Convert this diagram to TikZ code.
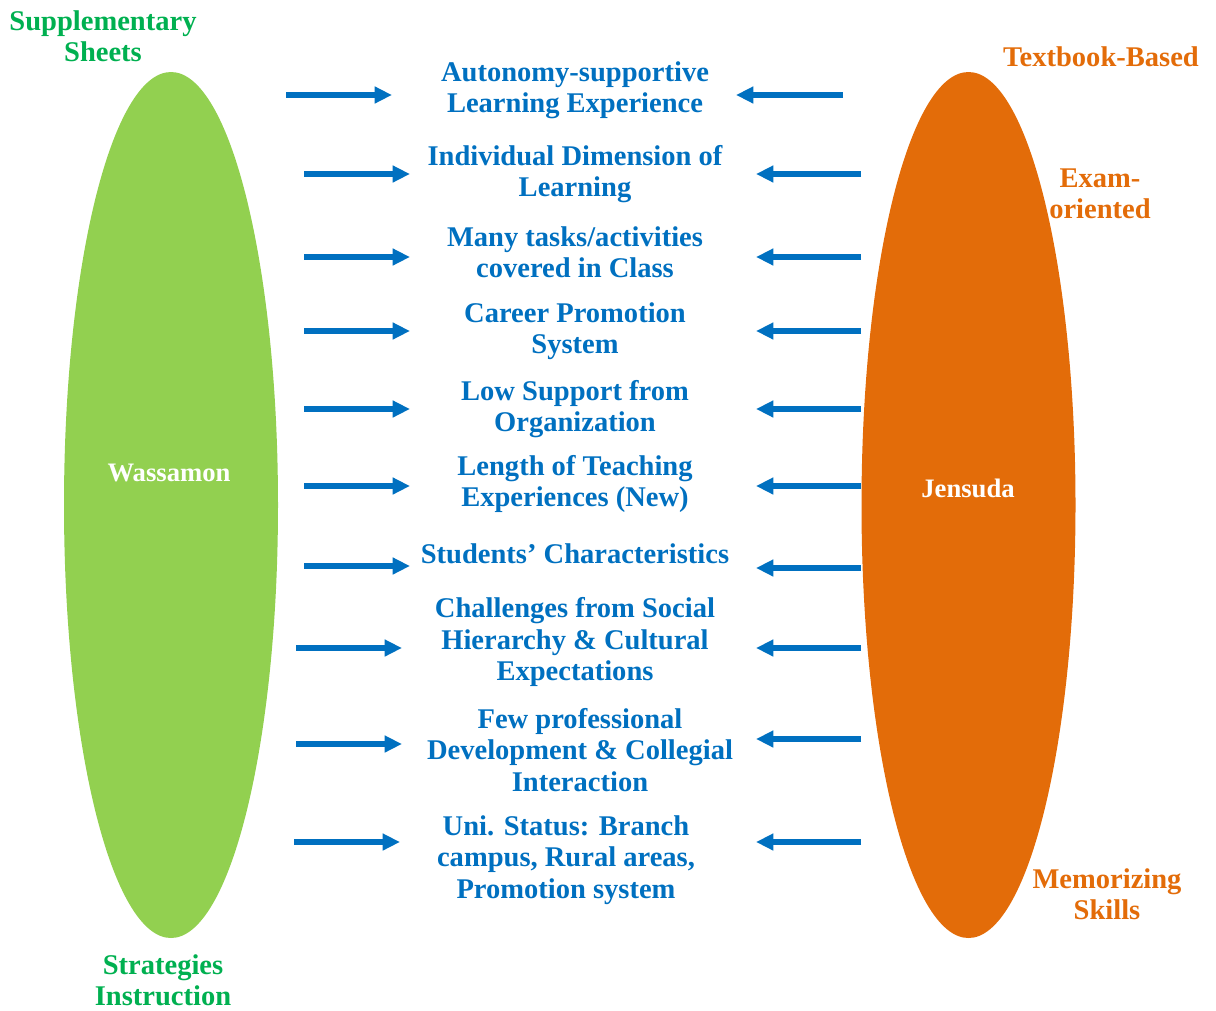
\documentclass[tikz,border=0pt]{standalone}
\usepackage{fontspec}
\setmainfont{Liberation Serif}
\usetikzlibrary{arrows.meta}
\definecolor{leafgreen}{HTML}{92D050}
\definecolor{rustorange}{HTML}{E36C09}
\definecolor{factorblue}{HTML}{0070C0}
\definecolor{notegreen}{HTML}{00B050}
\tikzset{
    factor/.style={text=factorblue, align=center, inner sep=0pt,
        font=\bfseries\fontsize{21.4}{23.6}\selectfont},
    greennote/.style={factor, text=notegreen},
    orangenote/.style={factor, text=rustorange},
    person/.style={text=white, inner sep=0pt,
        font=\bfseries\fontsize{20}{24}\selectfont},
    push/.style={draw=factorblue, line width=4pt,
        -{Triangle[length=13pt,width=12pt]}}
}
\begin{document}
\begin{tikzpicture}[x=0.75pt,y=-0.75pt]
		\useasboundingbox (0,0) rectangle (1216,1010);

		% the two teachers
		\fill[leafgreen] (171,505) ellipse [x radius=107, y radius=433];
	    \node[person] (wassamon) at (169,473) {Wassamon};
		\fill[rustorange] (968.5,505) ellipse [x radius=107, y radius=433];
	    \node[person] (jensuda) at (968,488) {Jensuda};

		% side notes
	    \node[greennote] (sheets) at (103,36) {Supplementary\\Sheets};
	    \node[greennote] (strategies) at (163,980) {Strategies\\Instruction};
	    \node[orangenote] (textbook) at (1101,57) {Textbook-Based};
	    \node[orangenote] (exam) at (1100,194) {Exam-\\oriented};
	    \node[orangenote] (memorizing) at (1107,894) {Memorizing\\Skills};

		% factors
	    \node[factor] (f1) at (575,90) {Autonomy-supportive\\Learning Experience};
	    \node[factor] (f2) at (575,174) {Individual Dimension of\\Learning};
	    \node[factor] (f3) at (575,252) {Many tasks/activities\\covered in Class};
	    \node[factor] (f4) at (575,331) {Career Promotion\\System};
	    \node[factor] (f5) at (575,409) {Low Support from\\Organization};
	    \node[factor] (f6) at (575,484) {Length of Teaching\\Experiences (New)};
	    \node[factor] (f7) at (575,554) {Students’ Characteristics};
	    \node[factor] (f8) at (575,642) {Challenges from Social\\Hierarchy \& Cultural\\Expectations};
	    \node[factor] (f9) at (580,750) {Few professional\\Development \& Collegial\\Interaction};
	    \node[factor] (f10) at (566,860) {Uni. Status: Branch\\campus, Rural areas,\\Promotion system};

		% arrows
		\foreach \tx/\hx/\yy [count=\i] in {286/392/95, 304/410/174, 304/410/257,
		    304/410/331, 304/410/409, 304/410/486, 304/410/566, 296/402/648,
		    296/402/744, 294/400/842} {
		    \coordinate (la\i) at (\tx,\yy);
		    \coordinate (lb\i) at (\hx,\yy);
		    \draw[push] (la\i) -- (lb\i);
		}
		\foreach \tx/\hx/\yy [count=\i] in {843/736/95, 861/756/174, 861/756/257,
		    861/756/331, 861/756/409, 861/756/486, 861/756/568, 861/756/648,
		    861/756/739, 861/756/842} {
		    \coordinate (ra\i) at (\tx,\yy);
		    \coordinate (rb\i) at (\hx,\yy);
		    \draw[push] (ra\i) -- (rb\i);
		}
\end{tikzpicture}
\end{document}
